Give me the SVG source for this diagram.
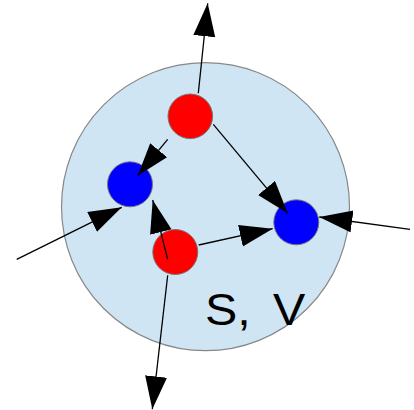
<svg xmlns="http://www.w3.org/2000/svg" width="414" height="410" viewBox="0 0 414 410">
<defs>
<style>
.sys{fill:#cfe5f3;stroke:#888888;stroke-width:1.2}
.red{fill:#ff0000;stroke:#777777;stroke-width:1}
.blue{fill:#0000ff;stroke:#777777;stroke-width:1}
.c{stroke:#000;stroke-width:1.3;fill:none;marker-end:url(#ah)}
.lbl{font-family:"Liberation Sans",Arial,sans-serif;font-size:44px;fill:#000;word-spacing:8px}
</style>
<marker id="ah" markerUnits="userSpaceOnUse" markerWidth="34" markerHeight="24" refX="33" refY="11" orient="auto" viewBox="0 0 34 24">
<path d="M0,0 L33,11 L0,22 z" fill="#000"/>
</marker>
</defs>
<g id="system">
<circle class="sys" cx="205.5" cy="206.7" r="144"/>
<text class="lbl" x="0" y="325" transform="translate(205 0) scale(1.1 1)">S, V</text>
</g>
<g id="red-top"><circle class="red" cx="190.3" cy="116.3" r="22.3"/></g>
<g id="blue-left"><circle class="blue" cx="130" cy="184.3" r="22.5"/></g>
<g id="red-bottom"><circle class="red" cx="175.3" cy="252" r="22.5"/></g>
<g id="blue-right"><circle class="blue" cx="296.3" cy="222.3" r="22.5"/></g>
<g id="connectors">
<line class="c" x1="198.3" y1="93.3" x2="207.7" y2="3.3"/>
<line class="c" x1="167.7" y1="139.3" x2="137.7" y2="175.7"/>
<line class="c" x1="213.3" y1="124.3" x2="287.7" y2="213.3"/>
<line class="c" x1="16.7" y1="259.3" x2="121.7" y2="207.3"/>
<line class="c" x1="167.7" y1="259.3" x2="152.7" y2="200"/>
<line class="c" x1="198.7" y1="245" x2="272.7" y2="228.7"/>
<line class="c" x1="410" y1="229.3" x2="319.3" y2="217"/>
<line class="c" x1="167.7" y1="275.3" x2="152.3" y2="409.3"/>
</g>
</svg>
